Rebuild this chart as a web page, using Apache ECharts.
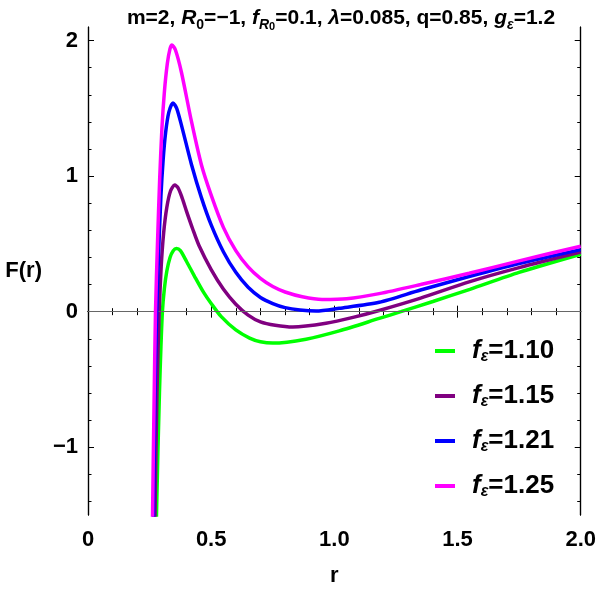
<!DOCTYPE html>
<html>
<head>
<meta charset="utf-8">
<script src="https://cdn.jsdelivr.net/npm/echarts@6/dist/echarts.min.js"></script>
<style>
html, body { margin: 0; padding: 0; background: #fff; }
#chart { width: 599px; height: 592px; }
</style>
</head>
<body>
<div id="chart"></div>
<script>
// values, [r, F(r)]
var names = ['1.10', '1.15', '1.21', '1.25'];
var colors = ['#00ff00', '#800080', '#0000ff', '#ff00ff'];

var curve110 = [[0.26,-4],[0.278,-1.5],[0.29,-0.6],[0.296,-0.26],[0.302,0],[0.31,0.17],[0.32,0.3],[0.333,0.4],[0.346,0.45],[0.359,0.466],[0.375,0.45],[0.4,0.37],[0.433,0.259],[0.47,0.14],[0.5,0.06],[0.54,-0.035],[0.6,-0.135],[0.656,-0.195],[0.7,-0.222],[0.75,-0.232],[0.885,-0.203],[1.02,-0.142],[1.182,-0.05],[1.27,0],[1.4,0.075],[1.55,0.165],[1.75,0.29],[2.0,0.424]];
var curve115 = [[0.255,-4],[0.272,-1.5],[0.28,-0.6],[0.289,0],[0.297,0.33],[0.307,0.58],[0.32,0.77],[0.335,0.89],[0.352,0.935],[0.365,0.915],[0.38,0.85],[0.4,0.74],[0.425,0.61],[0.45,0.49],[0.5,0.31],[0.55,0.165],[0.6,0.055],[0.65,-0.025],[0.7,-0.075],[0.76,-0.1],[0.831,-0.113],[0.966,-0.085],[1.08,-0.04],[1.182,0.009],[1.35,0.1],[1.547,0.22],[1.75,0.325],[2.0,0.44]];
var curve121 = [[0.25,-4],[0.266,-1.5],[0.272,-0.6],[0.279,0],[0.287,0.45],[0.296,0.85],[0.305,1.12],[0.315,1.32],[0.328,1.47],[0.345,1.54],[0.36,1.5],[0.379,1.378],[0.42,1.086],[0.46,0.843],[0.5,0.64],[0.55,0.44],[0.6,0.29],[0.65,0.18],[0.7,0.105],[0.75,0.06],[0.8,0.03],[0.86,0.012],[0.926,0.004],[1.02,0.025],[1.182,0.069],[1.35,0.16],[1.547,0.259],[1.75,0.355],[2.0,0.458]];
var curve125 = [[0.248,-4],[0.262,-1.5],[0.268,-0.7],[0.274,0],[0.282,0.5],[0.291,0.98],[0.3,1.35],[0.31,1.62],[0.322,1.83],[0.333,1.94],[0.341,1.967],[0.355,1.93],[0.379,1.768],[0.42,1.403],[0.46,1.086],[0.5,0.86],[0.55,0.62],[0.6,0.45],[0.65,0.33],[0.7,0.245],[0.75,0.185],[0.8,0.145],[0.87,0.11],[0.95,0.09],[1.05,0.095],[1.182,0.133],[1.35,0.2],[1.547,0.283],[1.75,0.375],[2.0,0.483]];
var curves = [curve110, curve115, curve121, curve125];

var yMajor = [-1, 0, 1, 2];
var yMinor = [-1.4, -1.2, -0.8, -0.6, -0.4, -0.2, 0.2, 0.4, 0.6, 0.8, 1.2, 1.4, 1.6, 1.8];

var font = 'Liberation Sans, Arial, sans-serif';
var frame = { show: true, lineStyle: { color: '#000', width: 1.2 } };

function yLabel(v) {
    return v < 0 ? '\u2212' + Math.abs(v) : String(v);
}

var series = [];
for (var i = 0; i < curves.length; i++) {
    series.push({
        name: names[i],
        type: 'line',
        data: curves[i],
        smooth: 0.25,
        showSymbol: false,
        symbol: 'none',
        clip: true,
        z: 3 + i,
        lineStyle: { color: colors[i], width: 3.5 },
        itemStyle: { color: colors[i] }
    });
}
series[0].markLine = {
    silent: true,
    symbol: 'none',
    label: { show: false },
    lineStyle: { color: '#666', width: 1, type: 'solid' },
    data: [{ yAxis: 0 }]
};

var yAxisBase = function (pos, values, len, labels) {
    return {
        type: 'value', position: pos, min: -1.5, max: 2.1,
        axisLine: frame,
        splitLine: { show: false },
        axisTick: { show: true, inside: true, length: len, customValues: values, lineStyle: { color: '#000', width: 1 } },
        axisLabel: labels ? { show: true, customValues: yMajor, formatter: yLabel, margin: 10, fontSize: 22, fontWeight: 'bold', color: '#000', fontFamily: font } : { show: false }
    };
};

var chart = echarts.init(document.getElementById('chart'));
chart.setOption({
    animation: false,
    backgroundColor: '#fff',
    title: {
        left: 336, top: 0, textAlign: 'center',
        text: 'm=2, {i|R}{s|0}=\u22121, {i|f}{si|R}{ss|0}=0.1, {i|\u03bb}=0.085, q=0.85, {i|g}{si|\u03b5}=1.2',
        textStyle: {
            fontSize: 21, fontWeight: 'bold', color: '#000', fontFamily: font,
            rich: {
                i: { fontSize: 21, fontWeight: 'bold', fontStyle: 'italic', fontFamily: font },
                s: { fontSize: 14, fontWeight: 'bold', fontFamily: font, verticalAlign: 'bottom', padding: [11, 0, 0, 0] },
                si: { fontSize: 14, fontWeight: 'bold', fontStyle: 'italic', fontFamily: font, verticalAlign: 'bottom', padding: [11, 0, 0, 0] },
                ss: { fontSize: 11, fontWeight: 'bold', fontFamily: font, verticalAlign: 'bottom', padding: [16, 0, 0, 0] }
            }
        }
    },
    legend: {
        orient: 'vertical',
        left: 430, top: 333,
        itemWidth: 20, itemHeight: 4, itemGap: 18,
        icon: 'rect',
        data: names,
        formatter: function (n) { return '{f|f}{e|\u03b5}{n|=' + n + '}'; },
        textStyle: {
            padding: [0, 0, 0, 12],
            rich: {
                f: { fontSize: 26, fontWeight: 'bold', fontStyle: 'italic', fontFamily: font, color: '#000' },
                e: { fontSize: 16, fontWeight: 'bold', fontStyle: 'italic', fontFamily: font, color: '#000', verticalAlign: 'bottom', padding: [12, 0, 0, 0] },
                n: { fontSize: 26, fontWeight: 'bold', fontFamily: font, color: '#000' }
            }
        }
    },
    grid: { left: 88, right: 17, top: 27, bottom: 71, containLabel: false },
    xAxis: [
        {
            type: 'value', position: 'bottom', min: 0, max: 2, interval: 0.5,
            name: 'r', nameLocation: 'middle', nameGap: 50,
            nameTextStyle: { fontSize: 22, fontWeight: 'bold', color: '#000', fontFamily: font },
            axisLine: frame,
            splitLine: { show: false },
            axisTick: { inside: true, length: 6, lineStyle: { color: '#000' } },
            minorTick: { show: true, splitNumber: 5, length: 3.5, lineStyle: { color: '#000' } },
            axisLabel: {
                margin: 14, fontSize: 22, fontWeight: 'bold', color: '#000', fontFamily: font,
                formatter: function (v) { return v === 0 ? '0' : v.toFixed(1); }
            }
        },
        {
            type: 'value', position: 'top', min: 0, max: 2, interval: 0.5,
            axisLine: frame,
            splitLine: { show: false },
            axisTick: { inside: true, length: 6, lineStyle: { color: '#000' } },
            minorTick: { show: true, splitNumber: 5, length: 3.5, lineStyle: { color: '#000' } },
            axisLabel: { show: false }
        }
    ],
    yAxis: [
        Object.assign(yAxisBase('left', yMajor, 6, true), {
            name: 'F(r)', nameLocation: 'middle', nameGap: 46, nameRotate: 0,
            nameTextStyle: { fontSize: 22, fontWeight: 'bold', color: '#000', fontFamily: font }
        }),
        yAxisBase('left', yMinor, 3.5, false),
        yAxisBase('right', yMajor, 6, false),
        yAxisBase('right', yMinor, 3.5, false)
    ],
    series: series
});
</script>
</body>
</html>
